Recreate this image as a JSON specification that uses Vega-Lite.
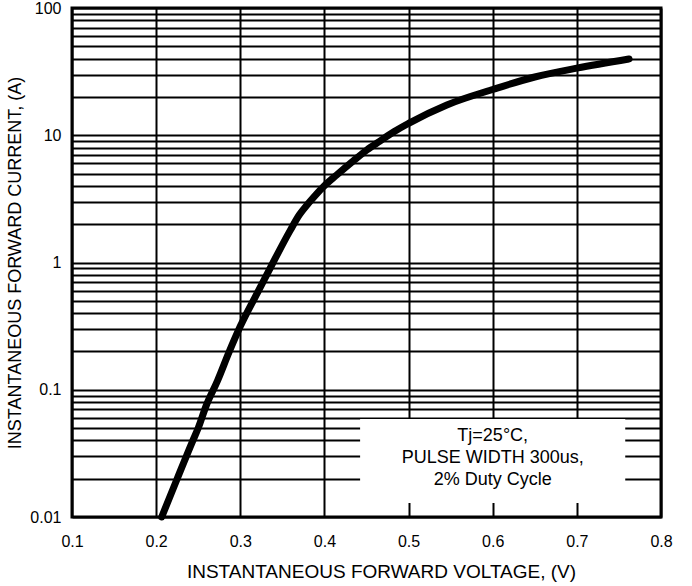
{
  "$schema": "https://vega.github.io/schema/vega-lite/v6.json",
  "width": 589,
  "height": 509,
  "autosize": "none",
  "padding": {"left": 72, "top": 8, "right": 31, "bottom": 69},
  "background": "white",
  "config": {
    "font": "Liberation Sans",
    "view": {"stroke": "black", "strokeWidth": 3},
    "axis": {
      "gridColor": "black",
      "gridWidth": 2,
      "gridOpacity": 1,
      "domain": false,
      "ticks": false,
      "tickSize": 0,
      "labelColor": "black",
      "titleColor": "black",
      "labelFont": "Liberation Sans",
      "titleFont": "Liberation Sans",
      "labelFontSize": 16,
      "titleFontSize": 18,
      "titleFontWeight": "normal",
      "labelOverlap": false,
      "labelFlush": false
    }
  },
  "datasets": {
    "curve": [
      {"v": 0.2066, "i": 0.01},
      {"v": 0.225, "i": 0.02},
      {"v": 0.243, "i": 0.039},
      {"v": 0.250, "i": 0.05},
      {"v": 0.2595, "i": 0.075},
      {"v": 0.273, "i": 0.118},
      {"v": 0.287, "i": 0.2},
      {"v": 0.300, "i": 0.315},
      {"v": 0.320, "i": 0.573},
      {"v": 0.3374, "i": 0.955},
      {"v": 0.3592, "i": 1.78},
      {"v": 0.370, "i": 2.36},
      {"v": 0.381, "i": 2.92},
      {"v": 0.390, "i": 3.42},
      {"v": 0.3988, "i": 3.94},
      {"v": 0.4147, "i": 4.88},
      {"v": 0.4345, "i": 6.3},
      {"v": 0.4504, "i": 7.66},
      {"v": 0.466, "i": 9.0},
      {"v": 0.483, "i": 10.7},
      {"v": 0.500, "i": 12.4},
      {"v": 0.5455, "i": 17.3},
      {"v": 0.601, "i": 23.0},
      {"v": 0.650, "i": 28.7},
      {"v": 0.700, "i": 33.7},
      {"v": 0.762, "i": 39.8}
    ],
    "box": [
      {"v": 0.4424, "v2": 0.7575, "i": 0.059, "i2": 0.0129}
    ],
    "note": [
      {"v": 0.6, "i": 0.0434, "label": ["Tj=25°C,", "PULSE WIDTH 300us,", "2% Duty Cycle"]}
    ]
  },
  "encoding": {
    "x": {
      "field": "v",
      "type": "quantitative",
      "scale": {"domain": [0.1, 0.8], "nice": false, "zero": false},
      "axis": {
        "values": [0.1, 0.2, 0.3, 0.4, 0.5, 0.6, 0.7, 0.8],
        "format": ".1f",
        "grid": true,
        "labelPadding": 16,
        "titlePadding": 13,
        "titleFontSize": 19,
        "titleX": 309,
        "title": "INSTANTANEOUS FORWARD VOLTAGE, (V)"
      }
    },
    "y": {
      "field": "i",
      "type": "quantitative",
      "scale": {"type": "log", "domain": [0.01, 100], "nice": false},
      "axis": {
        "values": [0.01, 0.02, 0.03, 0.04, 0.05, 0.06, 0.07, 0.08, 0.09, 0.1, 0.2, 0.3, 0.4, 0.5, 0.6, 0.7, 0.8, 0.9, 1, 2, 3, 4, 5, 6, 7, 8, 9, 10, 20, 30, 40, 50, 60, 70, 80, 90, 100],
        "labelExpr": "datum.value == 0.01 ? '0.01' : datum.value == 0.1 ? '0.1' : datum.value == 1 ? '1' : datum.value == 10 ? '10' : datum.value == 100 ? '100' : ''",
        "grid": true,
        "labelPadding": 11,
        "titlePadding": 5,
        "title": "INSTANTANEOUS FORWARD CURRENT, (A)"
      }
    }
  },
  "layer": [
    {
      "data": {"name": "box"},
      "mark": {"type": "rect", "fill": "white", "stroke": null},
      "encoding": {
        "x2": {"field": "v2"},
        "y2": {"field": "i2"}
      }
    },
    {
      "data": {"name": "note"},
      "mark": {"type": "text", "fontSize": 18, "lineHeight": 22, "baseline": "middle", "align": "center", "color": "black", "font": "Liberation Sans"},
      "encoding": {
        "text": {"field": "label"}
      }
    },
    {
      "data": {"name": "curve"},
      "mark": {"type": "line", "color": "black", "strokeWidth": 7, "strokeCap": "round", "strokeJoin": "round", "interpolate": "monotone"},
      "encoding": {
        "order": {"field": "v", "type": "quantitative"}
      }
    }
  ]
}
